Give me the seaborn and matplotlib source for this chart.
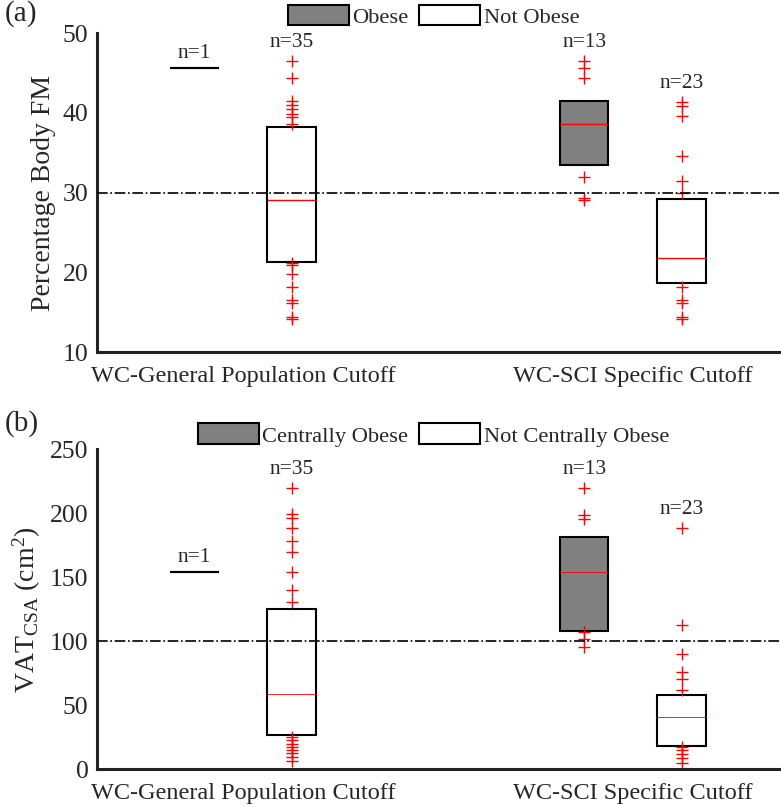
import matplotlib
matplotlib.use("Agg")
import matplotlib.pyplot as plt
from matplotlib.patches import Patch
import pandas as pd
import seaborn as sns

# categories and groups
cutoffs = ["WC-General Population Cutoff", "WC-SCI Specific Cutoff"]
fm_groups = ["Obese", "Not Obese"]
vat_groups = ["Centrally Obese", "Not Centrally Obese"]

# (a) percentage body fat mass
fm_gen_obese = [45.6]
fm_gen_not = [14.1, 14.4, 16.2, 16.5, 18.2, 19.8, 20.9, 21.1,
              21.3, 21.3, 23.0, 24.5, 25.8, 26.9, 27.8, 28.4, 28.8, 29.0,
              30.2, 31.5, 32.8, 34.0, 35.1, 36.2, 37.0, 38.2, 38.2,
              38.6, 39.5, 39.9, 40.5, 41.0, 41.5, 44.4, 46.5]
fm_sci_obese = [29.0, 29.3, 32.0, 33.4, 35.0, 37.2, 38.6, 39.5, 40.6, 41.5,
                44.4, 45.6, 46.5]
fm_sci_not = [14.1, 14.4, 16.2, 16.5, 18.2,
              18.6, 18.6, 19.3, 20.0, 20.8, 21.3, 21.75, 22.9, 24.3, 25.6, 27.0, 28.4,
              30.0, 31.4, 34.6, 39.6, 40.8, 41.4]

# (b) VAT cross sectional area (cm^2)
vat_gen_co = [154.0]
vat_gen_not = [6.5, 9.5, 12.5, 15.0, 17.5, 20.0, 22.8, 25.5,
               26.6, 26.6, 31.0, 36.0, 41.5, 46.0, 50.5, 54.0, 56.5, 58.6,
               64.0, 71.0, 79.0, 87.5, 96.0, 104.0, 112.5, 120.5,
               130.5, 140.0, 154.2, 169.5, 178.0, 188.5, 196.0, 199.5, 219.5]
vat_sci_co = [95.8, 101.6, 107.0, 108.3, 120.0, 138.0, 153.9, 162.0, 172.0, 181.8,
              195.3, 198.7, 219.5]
vat_sci_not = [5.2, 8.6, 12.0, 15.0, 17.7,
               18.4, 18.4, 22.0, 26.5, 31.0, 36.0, 41.1, 44.5, 47.0, 50.0, 52.5, 54.8,
               62.0, 70.8, 76.0, 90.4, 112.7, 188.5]

thresholds = [30, 100]


def long_df(arrays):
    rows = []
    for cut, grp, vals in arrays:
        for v in vals:
            rows.append({"cutoff": cut, "group": grp, "value": v})
    return pd.DataFrame(rows)


df_a = long_df([
    (cutoffs[0], fm_groups[0], fm_gen_obese),
    (cutoffs[0], fm_groups[1], fm_gen_not),
    (cutoffs[1], fm_groups[0], fm_sci_obese),
    (cutoffs[1], fm_groups[1], fm_sci_not),
])
df_b = long_df([
    (cutoffs[0], vat_groups[0], vat_gen_co),
    (cutoffs[0], vat_groups[1], vat_gen_not),
    (cutoffs[1], vat_groups[0], vat_sci_co),
    (cutoffs[1], vat_groups[1], vat_sci_not),
])

sns.set_style("white")
plt.rcParams["font.family"] = ["Liberation Serif", "DejaVu Serif"]
plt.rcParams["mathtext.fontset"] = "custom"
plt.rcParams["mathtext.rm"] = "Liberation Serif"
plt.rcParams["mathtext.it"] = "Liberation Serif:italic"

fig = plt.figure(figsize=(7.81, 8.07), dpi=100)
ax_a = fig.add_axes([0.124, 0.5638, 0.876, 0.3953])
ax_b = fig.add_axes([0.124, 0.0467, 0.876, 0.3965])

panels = [
    (ax_a, df_a, fm_groups, (10, 50), [10, 20, 30, 40, 50], thresholds[0],
     "Percentage Body FM", 1.0, 0.980, "(a)", 1.0),
    (ax_b, df_b, vat_groups, (0, 250), [0, 50, 100, 150, 200, 250], thresholds[1],
     r"VAT$_{\mathrm{CSA}}$ (cm$^{\mathrm{2}}$)", 0.6, 0.461, "(b)", 0.492),
]

for ax, df, groups, ylim, yticks, thr, ylabel, med_lw, leg_y, tag, tag_y in panels:
    pal = {groups[0]: "#808080", groups[1]: "white"}
    sns.boxplot(data=df, x="cutoff", y="value", hue="group", order=cutoffs,
                hue_order=groups, palette=pal, saturation=1, width=0.5, gap=0.5,
                whis=0, showcaps=False, linecolor="black", linewidth=1.5,
                whiskerprops=dict(linewidth=0),
                medianprops=dict(color="red", linewidth=med_lw),
                flierprops=dict(marker="+", markeredgecolor="red", markersize=8,
                                markeredgewidth=1.0),
                legend=False, ax=ax)
    # single-value box is drawn as a black line
    ax.containers[0].medians[0].set_color("black")
    ax.containers[0].medians[0].set_linewidth(1.5)

    ax.axhline(thr, color="black", ls="-.", lw=1.2, zorder=3)

    # n labels above each group
    for i, cut in enumerate(cutoffs):
        for j, grp in enumerate(groups):
            vals = df.loc[(df.cutoff == cut) & (df.group == grp), "value"]
            xpos = i + (-0.125 if j == 0 else 0.125)
            off = 6.5 if len(vals) > 1 else 3.5
            ax.annotate(f"n={len(vals)}", (xpos, vals.max()), xytext=(0, off),
                        textcoords="offset points", ha="center", va="bottom",
                        fontsize=15.5)

    ax.set_xlim(-0.375, 1.38)
    ax.set_ylim(*ylim)
    ax.set_yticks(yticks)
    ax.set_xlabel("")
    ax.set_ylabel(ylabel, fontsize=20, labelpad=5)
    sns.despine(ax=ax)
    for s in ["left", "bottom"]:
        ax.spines[s].set_linewidth(2.2)
        ax.spines[s].set_color("#222222")
    ax.tick_params(direction="in", length=6, width=2, labelsize=18.5, pad=6)
    ax.tick_params(axis="x", labelsize=17.5, pad=10)

    handles = [Patch(facecolor=pal[g], edgecolor="black", linewidth=1.5, label=g)
               for g in groups]
    fig.legend(handles=handles, loc="center", bbox_to_anchor=(0.555, leg_y), ncol=2,
               frameon=False, fontsize=16.2, handlelength=2.7, handleheight=1.05,
               handletextpad=0.15, columnspacing=0.5)
    fig.text(0.006, tag_y, tag, fontsize=21, va="top", ha="left")

fig.savefig("out.png", dpi=100)
